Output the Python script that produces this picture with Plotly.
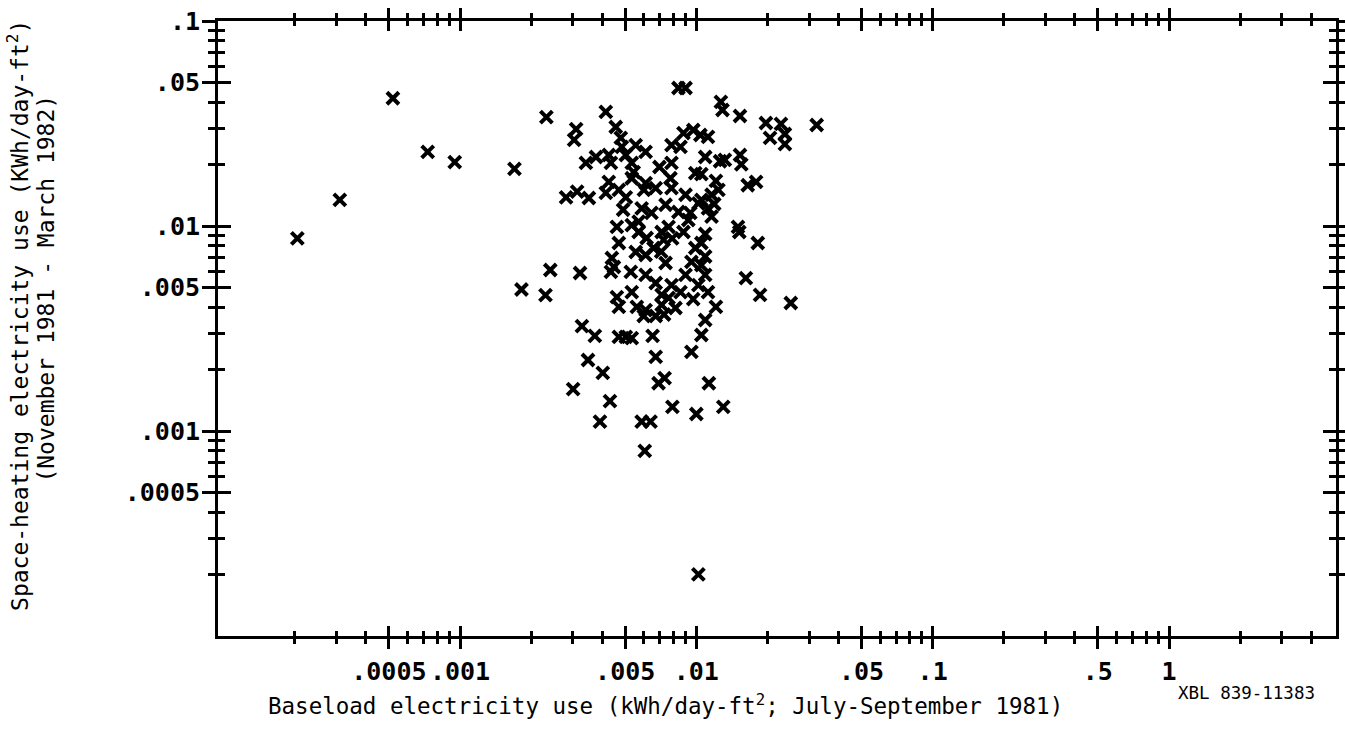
import plotly.graph_objects as go

# Baseload electricity use (kWh/day-ft2, Jul-Sep 1981)
baseload = [
    0.000205, 0.00031, 0.00052, 0.00073, 0.00095, 0.0017, 0.00182, 0.0023, 0.00241, 0.00322, 0.0102,
    0.00232, 0.0031, 0.00304, 0.00414, 0.00456, 0.0084, 0.009, 0.0127, 0.0129, 0.0153,
    0.0197, 0.0228, 0.0205, 0.0237, 0.0237, 0.0323, 0.00479, 0.00484, 0.00554, 0.0061,
    0.00341, 0.00376, 0.00426, 0.00435, 0.00503, 0.00533, 0.00543, 0.00698, 0.00785, 0.00785,
    0.00857, 0.00882, 0.00971, 0.0104, 0.0112, 0.0109, 0.0126, 0.0132, 0.0153, 0.0155,
    0.0099, 0.0105, 0.0121, 0.0124, 0.0165, 0.0179, 0.00426, 0.0047, 0.00533, 0.0061,
    0.00673, 0.00777, 0.00785, 0.00281, 0.00313, 0.00351, 0.00414, 0.00503, 0.009, 0.0105, 0.0116,
    0.00587, 0.00646, 0.00741, 0.0084, 0.00943, 0.0102, 0.0112, 0.0116, 0.00461, 0.00533,
    0.0057, 0.0047, 0.00616, 0.00713, 0.00763, 0.00882, 0.0109, 0.0105, 0.0099, 0.015,
    0.0152, 0.0182, 0.00659, 0.00554, 0.0061, 0.00439, 0.00448, 0.00435, 0.00528, 0.00741,
    0.00953, 0.0105, 0.0109, 0.009, 0.0061, 0.00673, 0.00785, 0.0102, 0.0112, 0.00857,
    0.00713, 0.00533, 0.00461, 0.0047, 0.0056, 0.0061, 0.00713, 0.00816, 0.0121, 0.0162,
    0.0186, 0.0251, 0.0109, 0.00328,
    0.00372, 0.0047, 0.00503, 0.00533, 0.00653, 0.0105, 0.00348, 0.00673, 0.00953, 0.00402,
    0.00734, 0.00692, 0.0113, 0.00301, 0.00431, 0.00792, 0.01, 0.013, 0.00391, 0.00587,
    0.0064, 0.00605,
    0.0057, 0.00727, 0.00763, 0.00599, 0.00673, 0.00925, 0.0049, 0.0097,
    0.006, 0.0119, 0.0079, 0.0071, 0.0109, 0.0073,
]

# Space-heating electricity use (KWh/day-ft2, Nov 1981 - Mar 1982)
space_heating = [
    0.0087, 0.0134, 0.042, 0.023, 0.0205, 0.019, 0.0049, 0.0046, 0.0061, 0.0059, 0.0002,
    0.034, 0.0297, 0.0263, 0.036, 0.0304, 0.0471, 0.0471, 0.0403, 0.0368, 0.0344,
    0.0318, 0.0315, 0.0269, 0.0281, 0.0251, 0.0311, 0.0269, 0.0243, 0.0248, 0.023,
    0.0203, 0.0217, 0.0222, 0.0203, 0.0222, 0.0203, 0.0183, 0.0194, 0.0203, 0.0248,
    0.0243, 0.0284, 0.0294, 0.0278, 0.0272, 0.0217, 0.0207, 0.021, 0.0222, 0.02,
    0.0181, 0.0179, 0.0166, 0.015, 0.0158, 0.0164, 0.0164, 0.015, 0.0171, 0.0162,
    0.0153, 0.0171, 0.0153, 0.0138, 0.0147, 0.0137, 0.0145, 0.0138, 0.0142, 0.0134, 0.0142,
    0.0122, 0.0116, 0.0127, 0.0117, 0.0116, 0.0129, 0.0122, 0.0111, 0.0099, 0.0101,
    0.0105, 0.00826, 0.00874, 0.00935, 0.0099, 0.00935, 0.00914, 0.00826, 0.00781, 0.0099,
    0.00935, 0.00826, 0.00781, 0.00747, 0.00722, 0.00698, 0.00631, 0.00597, 0.00597, 0.0066,
    0.00668, 0.00645, 0.00577, 0.00577, 0.00577, 0.00527, 0.00515, 0.00515, 0.00476, 0.00476,
    0.00461, 0.00476, 0.0045, 0.00403, 0.00403, 0.00389, 0.00412, 0.00398, 0.00403, 0.00557,
    0.00461, 0.00421, 0.00348, 0.00325,
    0.00291, 0.00288, 0.00288, 0.00284, 0.00291, 0.00294, 0.00222, 0.0023, 0.00243, 0.00192,
    0.00181, 0.00171, 0.00171, 0.0016, 0.0014, 0.00131, 0.00121, 0.00131, 0.00111, 0.00111,
    0.00111, 0.0008,
    0.00935, 0.00855, 0.00446, 0.00364, 0.00364, 0.0107, 0.012, 0.0044,
    0.015, 0.0128, 0.0087, 0.0075, 0.0071, 0.0037,
]

x_major_vals = [0.0005, 0.001, 0.005, 0.01, 0.05, 0.1, 0.5, 1]
x_major_text = [".0005", ".001", ".005", ".01", ".05", ".1", ".5", "1"]
y_major_vals = [0.1, 0.05, 0.01, 0.005, 0.001, 0.0005]
y_major_text = [".1", ".05", ".01", ".005", ".001", ".0005"]
minor_mults = [2, 3, 4, 6, 7, 8, 9]
x_decades = [1e-4, 1e-3, 1e-2, 1e-1, 1]
y_decades = [1e-4, 1e-3, 1e-2]

x_minor = [m * d for d in x_decades for m in minor_mults if m * d < 5]
y_minor = [m * d for d in y_decades for m in minor_mults]

X_RANGE = [-4.024, 0.7066]
Y_RANGE = [-4.0, -1.0]

MONO = "DejaVu Sans Mono"
tickfont = dict(family=MONO, size=25, color="black", weight="bold")

fig = go.Figure()
fig.add_trace(go.Scatter(
    x=baseload, y=space_heating, mode="markers",
    marker=dict(symbol="x-thin", size=12, color="black",
                line=dict(color="black", width=4)),
    showlegend=False, hoverinfo="skip",
))
# empty trace to activate the overlay axes (inner half of crossing ticks)
fig.add_trace(go.Scatter(x=[], y=[], xaxis="x2", yaxis="y2", showlegend=False))

common_x = dict(type="log", range=X_RANGE, showgrid=False, zeroline=False,
                showline=True, linecolor="black", linewidth=3, automargin=False,
                tickmode="array", tickvals=x_major_vals, tickcolor="black",
                tickwidth=3, ticklen=10, mirror="allticks")
common_y = dict(type="log", range=Y_RANGE, showgrid=False, zeroline=False,
                showline=True, linecolor="black", linewidth=3, automargin=False,
                tickmode="array", tickvals=y_major_vals, tickcolor="black",
                tickwidth=3, ticklen=13, mirror="allticks")

fig.update_layout(
    width=1345, height=738,
    margin=dict(l=218, r=9, t=21, b=102, autoexpand=False),
    paper_bgcolor="white", plot_bgcolor="white",
    xaxis=dict(**common_x, ticks="outside", ticktext=x_major_text,
               tickfont=tickfont, ticklabelstandoff=1,
               minor=dict(tickvals=x_minor, ticks="outside", ticklen=5,
                          tickwidth=3, tickcolor="black", showgrid=False)),
    xaxis2=dict(**common_x, ticks="inside", overlaying="x", showticklabels=False,
                minor=dict(tickvals=x_minor, ticks="inside", ticklen=5,
                           tickwidth=3, tickcolor="black", showgrid=False)),
    yaxis=dict(**common_y, ticks="outside", ticktext=y_major_text,
               tickfont=tickfont, ticklabelstandoff=-3,
               minor=dict(tickvals=y_minor, ticks="outside", ticklen=7,
                          tickwidth=3, tickcolor="black", showgrid=False)),
    yaxis2=dict(**common_y, ticks="inside", overlaying="y", showticklabels=False,
                minor=dict(tickvals=y_minor, ticks="inside", ticklen=7,
                           tickwidth=3, tickcolor="black", showgrid=False)),
    annotations=[
        dict(text="Baseload electricity use (kWh/day-ft<sup>2</sup>; July-September 1981)",
             xref="paper", yref="paper", x=0.40, y=-0.112, xanchor="center", yanchor="middle",
             showarrow=False, font=dict(family=MONO, size=22.5, color="black")),
        dict(text="XBL 839-11383",
             xref="paper", yref="paper", x=0.857, y=-0.093, xanchor="left", yanchor="middle",
             showarrow=False, font=dict(family=MONO, size=17.5, color="black")),
        dict(text="Space-heating electricity use (KWh/day-ft<sup>2</sup>)",
             xref="paper", yref="paper", x=-0.1789, y=0.522, xanchor="center", yanchor="middle",
             textangle=-90, showarrow=False,
             font=dict(family=MONO, size=23, color="black")),
        dict(text="(November 1981 - March 1982)",
             xref="paper", yref="paper", x=-0.1547, y=0.565, xanchor="center", yanchor="middle",
             textangle=-90, showarrow=False,
             font=dict(family=MONO, size=23, color="black")),
    ],
)

fig.write_html("out.html")
